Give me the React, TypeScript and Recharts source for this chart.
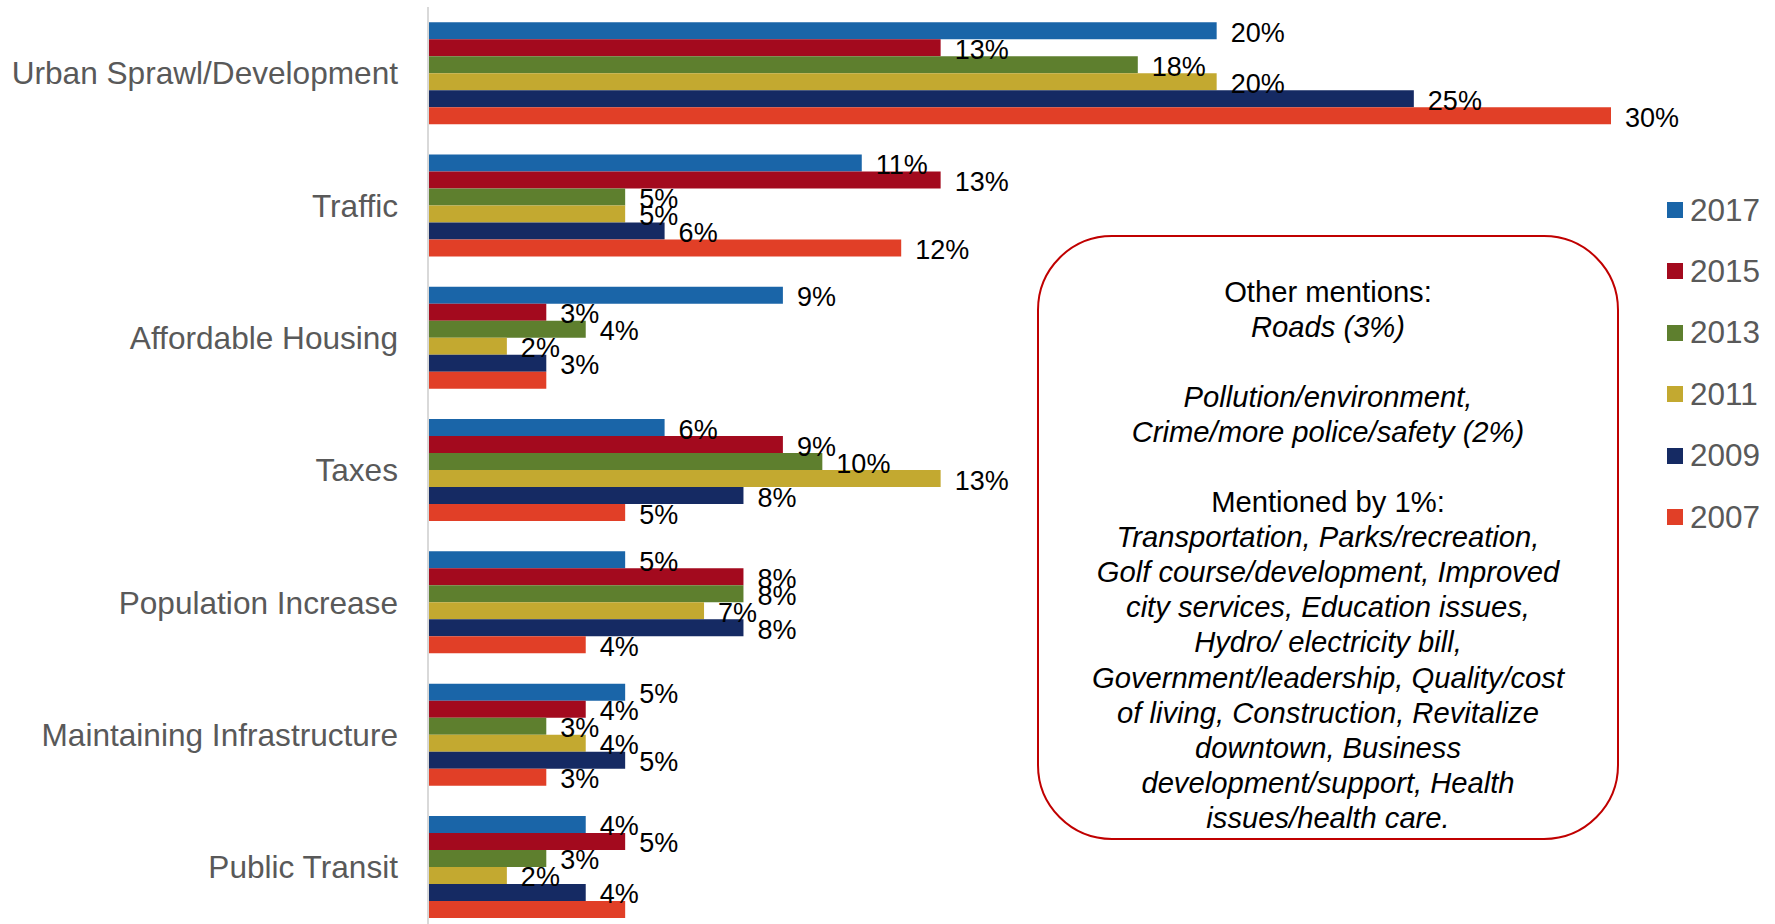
import React from "react";
import { BarChart, Bar, XAxis, YAxis, LabelList } from "recharts";

const categories = [
  "Urban Sprawl/Development",
  "Traffic",
  "Affordable Housing",
  "Taxes",
  "Population Increase",
  "Maintaining Infrastructure",
  "Public Transit",
];

const years = ["2017", "2015", "2013", "2011", "2009", "2007"];
const colors = ["#1A65A8", "#A30A1E", "#5E7F2E", "#C3A930", "#152A63", "#E13F27"];

const v2017 = [20, 11, 9, 6, 5, 5, 4];
const v2015 = [13, 13, 3, 9, 8, 4, 5];
const v2013 = [18, 5, 4, 10, 8, 3, 3];
const v2011 = [20, 5, 2, 13, 7, 4, 2];
const v2009 = [25, 6, 3, 8, 8, 5, 4];
const v2007 = [30, 12, 3, 5, 4, 3, 5];

// bars whose value label is not shown in the original
const hiddenLabels = [
  ["2007", "Affordable Housing"],
  ["2007", "Public Transit"],
];

const noteLines = [
  { text: "Other mentions:", italic: false },
  { text: "Roads (3%)", italic: true },
  { text: "", italic: false },
  { text: "Pollution/environment,", italic: true },
  { text: "Crime/more police/safety (2%)", italic: true },
  { text: "", italic: false },
  { text: "Mentioned by 1%:", italic: false },
  { text: "Transportation, Parks/recreation,", italic: true },
  { text: "Golf course/development, Improved", italic: true },
  { text: "city services, Education issues,", italic: true },
  { text: "Hydro/ electricity bill,", italic: true },
  { text: "Government/leadership, Quality/cost", italic: true },
  { text: "of living, Construction, Revitalize", italic: true },
  { text: "downtown, Business", italic: true },
  { text: "development/support, Health", italic: true },
  { text: "issues/health care.", italic: true },
];

const series = [v2017, v2015, v2013, v2011, v2009, v2007];

const data = categories.map((name, i) => {
  const row: Record<string, any> = { name };
  years.forEach((y, s) => {
    row[y] = series[s][i];
  });
  return row;
});

const FONT = "'Liberation Sans', Arial, sans-serif";

const makeLabel = (year: string) => (props: any) => {
  const { x, y, width, height, value, index } = props;
  const cat = categories[index];
  if (hiddenLabels.some(([yy, c]) => yy === year && c === cat)) return null;
  return (
    <text
      x={x + width + 14}
      y={y + height / 2 + 2}
      fill="#000"
      fontSize={27}
      fontFamily={FONT}
      dominantBaseline="central"
    >
      {value}%
    </text>
  );
};

export default function App() {
  return (
    <div
      style={{
        position: "absolute",
        left: 0,
        top: 0,
        width: 1775,
        height: 924,
        overflow: "hidden",
        background: "#fff",
        fontFamily: FONT,
      }}
    >
      <BarChart
        width={1775}
        height={940}
        data={data}
        layout="vertical"
        margin={{ top: 7, right: 164, bottom: 7, left: 0 }}
        barCategoryGap="11.5%"
        barGap={0}
      >
        <XAxis type="number" domain={[0, 30]} hide />
        <YAxis
          type="category"
          dataKey="name"
          width={428}
          interval={0}
          tickLine={false}
          tickSize={0}
          tickMargin={30}
          axisLine={{ stroke: "#D9D9D9", strokeWidth: 2 }}
          tick={{ fill: "#595959", fontSize: 31.6, fontFamily: FONT }}
        />
        {years.map((y, i) => (
          <Bar key={y} dataKey={y} fill={colors[i]} isAnimationActive={false}>
            <LabelList dataKey={y} content={makeLabel(y)} />
          </Bar>
        ))}
      </BarChart>

      {/* legend */}
      {years.map((y, i) => (
        <div
          key={y}
          style={{
            position: "absolute",
            left: 1667,
            top: 210 + i * 61.4 - 18,
            height: 36,
            display: "flex",
            alignItems: "center",
            color: "#595959",
            fontSize: 31.5,
          }}
        >
          <span
            style={{
              display: "inline-block",
              width: 16,
              height: 16,
              background: colors[i],
              marginRight: 7,
            }}
          />
          {y}
        </div>
      ))}

      {/* other mentions box */}
      <div
        style={{
          position: "absolute",
          left: 1037,
          top: 235,
          width: 582,
          height: 605,
          boxSizing: "border-box",
          border: "2px solid #C00000",
          borderRadius: 75,
          paddingTop: 37.5,
          textAlign: "center",
          fontSize: 29.2,
          lineHeight: "35.1px",
          color: "#000",
        }}
      >
        {noteLines.map((l, i) => (
          <div key={i} style={{ fontStyle: l.italic ? "italic" : "normal", height: 35.1, whiteSpace: "nowrap" }}>
            {l.text}
          </div>
        ))}
      </div>
    </div>
  );
}
